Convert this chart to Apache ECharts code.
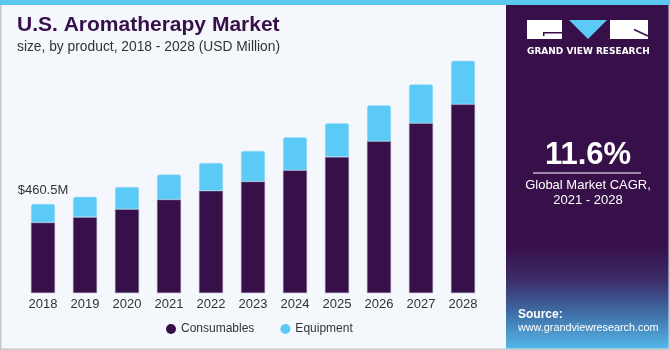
<!DOCTYPE html>
<html>
<head>
<meta charset="utf-8">
<script src="https://cdn.jsdelivr.net/npm/echarts@6/dist/echarts.min.js"></script>
<style>
html,body{margin:0;padding:0;background:#f4f8fc;}
#c{width:670px;height:350px;}
</style>
</head>
<body>
<div id="c"></div>
<script>
var years = ['2018','2019','2020','2021','2022','2023','2024','2025','2026','2027','2028'];
var consumables = [364.0, 392, 433, 483, 528, 576, 634, 703, 784, 877, 975];
var equipment = [96.5, 105, 115, 129, 144, 158, 171, 174, 186, 201, 225];
var cagrText = '11.6%';

var PURPLE = '#37104a';
var CYAN = '#5bcaf6';

var chart = echarts.init(document.getElementById('c'), null, {renderer:'canvas'});
var firstTotal = consumables[0] + equipment[0];

var equipData = equipment.map(function(v, i){
  if (i === 0) {
    return {value: v, label: {show: true, position: 'top', distance: 7,
      formatter: '$' + firstTotal.toFixed(1) + 'M',
      color: '#333', fontSize: 13, fontFamily: 'Liberation Sans, Arial, sans-serif'}};
  }
  return v;
});

var option = {
  backgroundColor: '#f4f8fc',
  animation: false,
  grid: {left: 22, right: 186, top: 22, bottom: 57, containLabel: false},
  xAxis: {
    type: 'category', data: years,
    axisLine: {show: false}, axisTick: {show: false},
    axisLabel: {color: '#333', fontSize: 13, margin: 5, fontFamily: 'Liberation Sans, Arial, sans-serif'}
  },
  yAxis: {type: 'value', min: 0, max: 1400, show: false, splitLine: {show: false}},
  legend: {
    left: 161, top: 318, icon: 'circle', itemWidth: 10, itemHeight: 10, itemGap: 26,
    itemStyle: {borderWidth: 0},
    textStyle: {color: '#333', fontSize: 12, fontFamily: 'Liberation Sans, Arial, sans-serif'},
    data: ['Consumables', 'Equipment']
  },
  series: [
    {name: 'Consumables', type: 'bar', stack: 't', barWidth: 24, data: consumables,
     itemStyle: {color: PURPLE, borderColor: '#8a7599', borderWidth: 0.6}},
    {name: 'Equipment', type: 'bar', stack: 't', barWidth: 24, data: equipData,
     itemStyle: {color: CYAN, borderColor: '#9fdcf7', borderWidth: 0.6, borderRadius: [2,2,0,0]}}
  ],
  graphic: [
    {type: 'rect', shape: {x: 0, y: 0, width: 670, height: 5}, style: {fill: '#5bc8f0'}},
    {type: 'rect', shape: {x: 0, y: 5, width: 1.5, height: 345}, style: {fill: '#c8c8c8'}},
    {type: 'rect', shape: {x: 0, y: 348.5, width: 670, height: 1.5}, style: {fill: '#c8c8c8'}},
    {type: 'rect', shape: {x: 668.5, y: 5, width: 1.5, height: 345}, style: {fill: '#c8c8c8'}},
    {type: 'text', left: 17, top: 15, style: {text: 'U.S. Aromatherapy Market', fill: PURPLE,
      font: 'bold 21px "Liberation Sans", Arial, sans-serif'}},
    {type: 'text', left: 17, top: 40, style: {text: 'size, by product, 2018 - 2028 (USD Million)', fill: '#333',
      font: '13.8px "Liberation Sans", Arial, sans-serif'}},
    {type: 'rect', shape: {x: 506, y: 5, width: 162.5, height: 343.5},
      style: {fill: new echarts.graphic.LinearGradient(0, 0, 0, 1, [
        {offset: 0, color: PURPLE}, {offset: 0.7, color: PURPLE},
        {offset: 0.8, color: '#3c2c68'}, {offset: 0.9, color: '#3f70a8'}, {offset: 1, color: '#55b8e8'}])}},
    {type: 'rect', shape: {x: 527, y: 20, width: 35, height: 19}, style: {fill: '#fff'}},
    {type: 'rect', shape: {x: 543, y: 32, width: 19, height: 1.5}, style: {fill: PURPLE}},
    {type: 'rect', shape: {x: 543, y: 32, width: 1.5, height: 4}, style: {fill: PURPLE}},
    {type: 'polygon', shape: {points: [[569, 20], [607, 20], [588, 39]]}, style: {fill: CYAN}},
    {type: 'rect', shape: {x: 610, y: 20, width: 38, height: 19}, style: {fill: '#fff'}},
    {type: 'line', shape: {x1: 634, y1: 29.5, x2: 648, y2: 36}, style: {stroke: PURPLE, lineWidth: 1.5}},
    {type: 'text', left: 527, top: 47, style: {text: 'GRAND VIEW RESEARCH', fill: '#fff',
      font: 'bold 9px "DejaVu Sans", Arial, sans-serif'}},
    {type: 'text', x: 588, y: 155, style: {text: cagrText, fill: '#fff', align: 'center', verticalAlign: 'middle',
      font: 'bold 31px "Liberation Sans", Arial, sans-serif'}},
    {type: 'rect', shape: {x: 533, y: 172.5, width: 108, height: 1}, style: {fill: '#fff'}},
    {type: 'text', x: 588, y: 185, style: {text: 'Global Market CAGR,', fill: '#fff', align: 'center', verticalAlign: 'middle',
      font: '13px "Liberation Sans", Arial, sans-serif'}},
    {type: 'text', x: 588, y: 200, style: {text: '2021 - 2028', fill: '#fff', align: 'center', verticalAlign: 'middle',
      font: '13px "Liberation Sans", Arial, sans-serif'}},
    {type: 'text', left: 518, top: 309, style: {text: 'Source:', fill: '#fff',
      font: 'bold 12px "Liberation Sans", Arial, sans-serif'}},
    {type: 'text', left: 518, top: 323, style: {text: 'www.grandviewresearch.com', fill: '#fff',
      font: '10.8px "Liberation Sans", Arial, sans-serif'}}
  ]
};
chart.setOption(option);
</script>
</body>
</html>
